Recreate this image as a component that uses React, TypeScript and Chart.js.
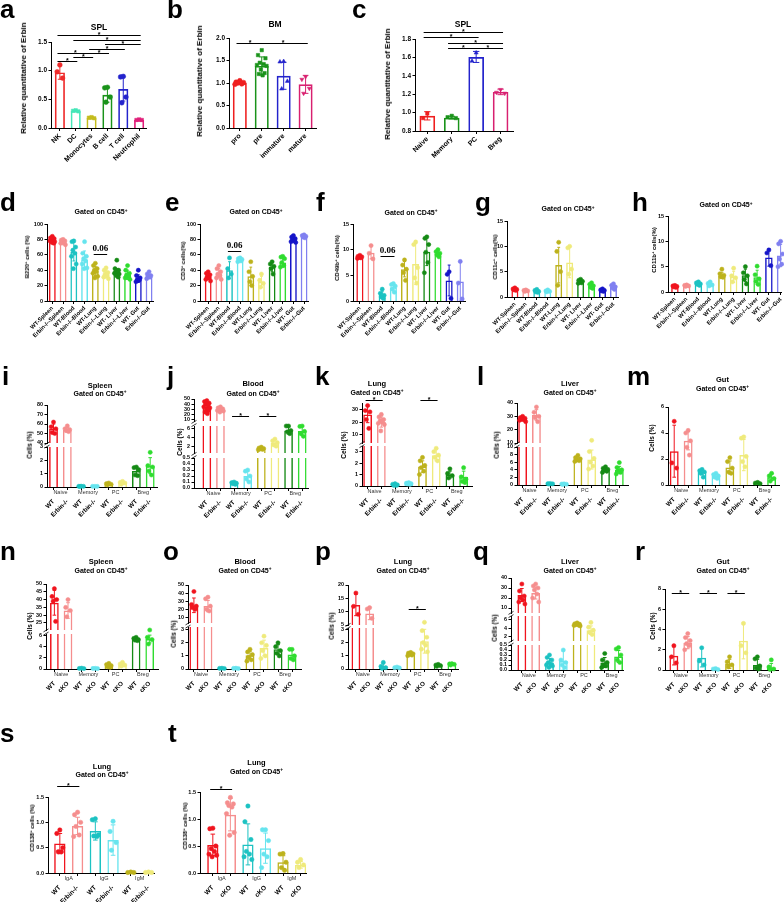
import React, { useEffect, useRef } from "react";
import { Chart, registerables } from "chart.js";

Chart.register(...registerables);

const SANS = "'Liberation Sans', Arial, Helvetica, sans-serif";
const SERIF = "'Liberation Serif', 'Times New Roman', serif";
Chart.defaults.font.family = SANS;

// ---------------- colours ----------------
const RED = "#f0141e", PINK = "#f58e8e", TEAL = "#1cc2c2", CYAN = "#66e4ee", OLIVE = "#bdb21c",
  LYEL = "#efea7c", DGREEN = "#158a15", LGREEN = "#2fdc2f", BLUE = "#1515c8", LBLUE = "#8080f0";
const PAL10 = [RED, PINK, TEAL, CYAN, OLIVE, LYEL, DGREEN, LGREEN, BLUE, LBLUE];
const PAL8 = PAL10.slice(0, 8);
const PAL6 = PAL10.slice(0, 6);

// ---------------- data ----------------
// a
const aCats = ["NK", "DC", "Monocytes", "B cell", "T cell", "Neutrophil"];
const aColors = ["#ef2b2b", "#46e6b8", "#c4bc1e", "#1a931a", "#2323cc", "#e0207a"];
const aMean = [0.97, 0.3, 0.18, 0.58, 0.68, 0.14];
const aSD = [0.12, 0.01, 0.02, 0.13, 0.21, 0.01];
const aPts = [[1.1, 0.98, 0.87], [0.31, 0.3, 0.29], [0.19, 0.18, 0.17], [0.71, 0.7, 0.54, 0.45], [0.9, 0.89, 0.54, 0.44], [0.15, 0.14, 0.14]];
const aShape = ["circle", "rect", "rect", "circle", "circle", "rect"];
const aBr = [[0, 5, 1.62], [1, 5, 1.535], [3, 5, 1.46], [2, 4, 1.38], [0, 2, 1.31], [2, 3, 1.31], [1, 2, 1.245], [0, 1, 1.17]];
// b
const bCats = ["pro", "pre", "immature", "mature"];
const bColors = ["#ef1f1f", "#1a931a", "#2323cc", "#d82070"];
const bMean = [1.0, 1.38, 1.16, 0.97];
const bSD = [0.03, 0.2, 0.3, 0.2];
const bPts = [[1.05, 1.02, 1.01, 1.0, 0.98, 0.97], [1.73, 1.62, 1.55, 1.45, 1.42, 1.4, 1.38, 1.3, 1.22, 1.2, 1.17], [1.48, 1.47, 1.04, 0.87], [1.14, 1.08, 0.88, 0.77]];
const bShape = ["circle", "rect", "triangle", "tri-down"];
const bBr = [[0, 1, 1.89], [1, 3, 1.89]];
// c
const cCats = ["Naive", "Memory", "PC", "Breg"];
const cMean = [0.965, 0.945, 1.605, 1.225];
const cSD = [0.045, 0.015, 0.06, 0.03];
const cPts = [[0.99, 0.94], [0.965, 0.95, 0.94], [1.65, 1.56], [1.25, 1.22, 1.21]];
const cShape = ["rect", "rect", "triangle", "tri-down"];
const cBr = [[0, 3, 1.873], [0, 2, 1.818], [1, 3, 1.76], [1, 2, 1.698], [2, 3, 1.698]];
// d-h
const tissueCats = ["WT-Spleen", "Erbin-/--Spleen", "WT-Blood", "Erbin-/--Blood", "WT-Lung", "Erbin-/--Lung", "WT- Liver", "Erbin-/--Liver", "WT- Gut", "Erbin-/--Gut"];
const dMean = [79, 76, 64, 54, 39, 35, 37, 34, 29, 32];
const dSD = [3, 3, 12, 11, 6, 5, 5, 6, 5, 3];
const dPts = [[84, 82, 81, 80, 79, 78, 77, 76, 75], [80, 79, 78, 77, 76, 75, 73], [78, 77, 70, 66, 62, 58, 48, 42], [77, 62, 58, 55, 52, 48, 43, 42], [49, 46, 42, 40, 38, 36, 32, 30], [43, 40, 37, 35, 33, 31, 29], [53, 42, 40, 38, 37, 36, 35, 33, 31], [46, 40, 36, 34, 32, 30, 28], [40, 33, 30, 28, 27, 25], [38, 35, 33, 32, 31, 29]];
const dBr = [[4, 5, 61]];
const eMean = [32, 36, 40, 53, 32, 25, 44, 50, 80, 83];
const eSD = [4, 6, 11, 2, 12, 7, 6, 6, 3, 2];
const ePts = [[38, 36, 34, 32, 30, 28, 26], [46, 42, 38, 35, 33, 30, 28], [56, 42, 35, 30], [56, 55, 54, 53, 52, 51], [51, 38, 32, 25, 20], [35, 27, 23, 18], [51, 48, 45, 42, 35], [58, 57, 55, 50, 46, 44], [85, 83, 81, 80, 78, 77, 76], [86, 85, 84, 83, 82]];
const eBr = [[2, 3, 65]];
const fMean = [8.6, 9.4, 1.2, 2.7, 6.2, 7.2, 9.6, 9.2, 4.0, 3.8];
const fSD = [0.2, 1.2, 0.6, 0.7, 1.5, 4.0, 2.7, 0.6, 3.0, 3.8];
const fPts = [[8.9, 8.7, 8.6, 8.5, 8.4, 8.3], [10.8, 9.3, 8.2], [2.3, 1.5, 1.1, 0.8, 0.5], [3.4, 3.2, 2.9, 2.3, 1.7], [8.0, 7.0, 6.2, 5.5, 4.0], [11.5, 11.0, 6.5, 4.5, 3.5], [12.5, 12.2, 11.0, 9.5, 7.5, 5.5], [10.0, 9.6, 9.3, 9.0, 8.6], [5.7, 5.2, 0.5], [7.7, 3.5, 0.4]];
const fBr = [[2, 3, 8.8]];
const gMean = [1.5, 1.2, 1.2, 1.1, 6.3, 6.8, 3.0, 2.2, 1.3, 2.0];
const gSD = [0.2, 0.1, 0.2, 0.15, 3.5, 3.0, 0.3, 0.4, 0.2, 0.4];
const gPts = [[1.8, 1.6, 1.5, 1.4, 1.3], [1.4, 1.3, 1.2, 1.1], [1.5, 1.3, 1.1, 1.0, 0.9], [1.4, 1.2, 1.1, 1.0], [10.8, 9.0, 5.0, 2.3], [10.0, 9.7, 5.5, 4.5], [3.5, 3.3, 3.1, 2.9, 2.8, 2.7], [2.8, 2.5, 2.2, 1.9, 1.7], [1.6, 1.4, 1.3, 1.2, 1.1], [2.6, 2.3, 2.0, 1.8, 1.5]];
const hMean = [1.1, 1.2, 1.6, 1.5, 3.3, 3.0, 3.3, 2.9, 6.8, 7.2];
const hSD = [0.15, 0.1, 0.25, 0.3, 0.6, 1.1, 1.2, 1.4, 1.7, 2.2];
const hPts = [[1.3, 1.2, 1.1, 1.0, 0.9], [1.4, 1.3, 1.2, 1.1], [2.0, 1.8, 1.6, 1.5, 1.3], [2.0, 1.7, 1.4, 1.2], [4.5, 3.6, 3.3, 3.0, 2.9], [4.7, 3.2, 2.8, 2.0], [5.0, 3.8, 3.2, 2.5, 1.6], [5.1, 3.4, 2.6, 2.1, 1.5], [8.3, 7.7, 5.2], [10.0, 9.5, 7.5, 6.5, 5.5, 5.0]];
// i-r
const wtErbin8 = ["WT", "Erbin-/-", "WT", "Erbin-/-", "WT", "Erbin-/-", "WT", "Erbin-/-"];
const wtCko8 = ["WT", "cKO", "WT", "cKO", "WT", "cKO", "WT", "cKO"];
const cellGroups = ["Naive", "Memory", "PC", "Breg"];
const iMean = [55, 54, 0.05, 0.05, 0.22, 0.3, 1.2, 1.6];
const iSD = [5, 2.5, 0.01, 0.01, 0.06, 0.1, 0.3, 0.6];
const iPts = [[62, 57, 55, 51, 50], [58, 55, 54, 53, 52], [0.06, 0.05, 0.05, 0.04], [0.05, 0.05, 0.05], [0.3, 0.25, 0.2, 0.15], [0.42, 0.35, 0.3, 0.2], [1.5, 1.45, 1.3, 0.9, 0.85], [2.6, 1.6, 1.5, 1.2, 0.9]];
const jMean = [35, 30, 0.08, 0.2, 1.5, 2.8, 5.5, 5.4];
const jSD = [8, 3, 0.02, 0.08, 0.2, 0.7, 0.8, 1.0];
const jPts = [[47, 45, 42, 40, 38, 35, 33, 30, 28, 25, 22], [35, 33, 31, 30, 29, 28, 27, 25], [0.1, 0.09, 0.08, 0.07, 0.06], [0.3, 0.28, 0.2, 0.15, 0.1], [1.8, 1.6, 1.5, 1.4, 1.3, 1.2], [3.6, 3.2, 2.8, 2.3, 2.0], [6.5, 6.5, 5.5, 5.2, 4.8], [6.5, 6.4, 5.3, 4.8, 4.2]];
const jBr = [[2, 3, 17.5, 2], [4, 5, 17.5, 2]];
const kMean = [26, 20, 0.1, 0.2, 1.7, 2.7, 1.0, 0.8];
const kSD = [6.5, 4, 0.05, 0.05, 0.5, 0.5, 0.3, 0.5];
const kPts = [[33, 29, 28, 22, 15], [26, 24, 22, 21, 20, 19, 18, 13], [0.2, 0.15, 0.1, 0.05, 0.05], [0.3, 0.25, 0.2, 0.18, 0.15], [2.5, 2.2, 1.8, 1.6, 1.3, 1.0], [3.3, 3.0, 2.7, 2.5, 2.2], [1.5, 1.1, 0.9, 0.7], [1.6, 0.8, 0.6, 0.4, 0.3]];
const kBr = [[0, 1, 37.5, 1], [4, 5, 37.5, 1]];
const lMean = [28, 31, 0.3, 0.2, 6.8, 6.7, 4.0, 4.0];
const lSD = [1.5, 4, 0.05, 0.05, 0.5, 2.5, 0.5, 0.9];
const lPts = [[30, 29, 28.5, 28, 27.5, 27, 26], [37, 33, 30, 29, 26], [0.4, 0.35, 0.3, 0.25], [0.3, 0.25, 0.2, 0.15], [7.8, 7.2, 6.9, 6.6, 6.4, 6.2], [12, 8.8, 7.0, 6.0, 5.0, 4.2], [4.8, 4.4, 4.1, 3.9, 3.6, 3.3], [5.9, 4.6, 4.0, 3.7, 3.3, 2.9]];
const mMean = [2.6, 3.4, 1.0, 0.7, 1.35, 2.3, 0.15, 0.6];
const mSD = [2.0, 0.7, 0.2, 0.15, 0.5, 1.2, 0.05, 0.25];
const mPts = [[4.9, 1.7, 1.3], [4.2, 4.0, 3.4, 2.9, 2.3], [1.2, 1.1, 1.0, 0.9, 0.6], [0.9, 0.8, 0.7, 0.6, 0.5], [2.1, 1.8, 1.3, 1.0, 0.9], [3.7, 3.6, 2.2, 1.8, 1.4], [0.2, 0.15, 0.1], [0.9, 0.7, 0.5, 0.3]];
const nMean = [38, 33, 0.1, 0.1, 0.6, 0.7, 5.3, 5.4];
const nSD = [8, 5, 0.03, 0.02, 0.25, 0.3, 0.2, 0.7];
const nPts = [[47, 42, 40, 39, 26], [40, 35, 33, 29], [0.15, 0.1, 0.08], [0.12, 0.1, 0.08], [1.0, 0.8, 0.6, 0.4, 0.3], [1.2, 0.9, 0.7, 0.5], [5.7, 5.5, 5.3, 5.2, 5.1], [6.4, 5.7, 5.3, 4.5]];
const oMean = [25, 24, 0.05, 0.05, 1.05, 1.6, 1.5, 1.1];
const oSD = [9, 7, 0.01, 0.01, 0.3, 0.6, 0.35, 0.35];
const oPts = [[42, 26, 24, 22, 20], [35, 33, 24, 20, 18], [0.06, 0.05, 0.04], [0.06, 0.05, 0.04], [1.5, 1.3, 1.1, 0.9, 0.7, 0.6], [2.5, 2.0, 1.8, 1.4, 1.0, 0.8], [2.0, 1.7, 1.4, 1.2, 1.0], [1.5, 1.5, 1.0, 0.8, 0.7]];
const pMean = [12.5, 9.3, 0.2, 0.1, 1.1, 2.1, 0.3, 0.35];
const pSD = [4, 2.3, 0.2, 0.03, 0.1, 0.9, 0.05, 0.04];
const pPts = [[17, 12, 9], [11.5, 11, 7.5], [0.5, 0.2, 0.1, 0.05], [0.15, 0.1, 0.08], [1.25, 1.2, 1.15, 1.1, 1.05, 1.0], [6, 2.9, 2.4, 2.0, 1.8, 1.5, 1.3], [0.35, 0.3, 0.25, 0.2], [0.4, 0.38, 0.35, 0.3]];
const pBr = [[4, 5, 11, 1]];
const qMean = [23, 25, 0.15, 0.18, 4.8, 3.5, 0.15, 0.27];
const qSD = [6.5, 6, 0.08, 0.2, 0.25, 1.0, 0.1, 0.12];
const qPts = [[34, 27, 22, 20, 18, 16, 14], [34, 32, 30, 28, 24, 20, 16], [0.3, 0.25, 0.2, 0.15, 0.12, 0.1, 0.08, 0.05], [0.4, 0.2, 0.15, 0.1, 0.05], [5.2, 5.0, 4.9, 4.8, 4.7, 4.6, 4.5], [5.3, 4.2, 3.5, 3.0, 2.5], [0.33, 0.2, 0.15, 0.1, 0.08, 0.05], [0.45, 0.42, 0.3, 0.2, 0.15]];
const rMean = [1.4, 2.7, 1.2, 0.1, 0.6, 2.9, 0.5, 0.25];
const rSD = [0.9, 0.6, 0.9, 0.05, 0.45, 1.8, 0.55, 0.4];
const rPts = [[2.4, 1.3, 0.7], [3.6, 3.2, 2.9, 2.6, 2.4, 2.0], [2.2, 0.9, 0.5], [0.15, 0.1, 0.05], [1.3, 0.8, 0.5, 0.3], [4.6, 2.4, 1.7], [1.3, 1.1, 0.4, 0.2, 0.1], [1.0, 0.3, 0.1, 0.05]];
const rBr = [[0, 1, 7.6], [2, 3, 7.6], [4, 5, 7.6]];
// s-t
const wtErbin6 = ["WT", "Erbin-/-", "WT", "Erbin-/-", "WT", "Erbin-/-"];
const wtCko6 = ["WT", "cKO", "WT", "cKO", "WT", "cKO"];
const igGroups = ["IgA", "IgG", "IgM"];
const sMean = [0.58, 0.93, 0.83, 0.65, 0.01, 0.01];
const sSD = [0.2, 0.17, 0.18, 0.3, 0.005, 0.005];
const sPts = [[0.85, 0.78, 0.5, 0.42, 0.42], [1.2, 1.15, 1.0, 0.92, 0.75, 0.72], [1.07, 1.05, 0.75, 0.73, 0.72], [1.02, 0.82, 0.6, 0.45], [0.02, 0.01, 0.01], [0.02, 0.01, 0.01]];
const sBr = [[0, 1, 1.72]];
const tMean = [0.52, 1.08, 0.53, 0.46, 0.2, 0.15];
const tSD = [0.2, 0.3, 0.38, 0.28, 0.12, 0.06];
const tPts = [[0.83, 0.82, 0.5, 0.45, 0.4, 0.35, 0.33, 0.3], [1.4, 1.3, 1.28, 1.25, 1.22, 1.1, 0.75, 0.7], [1.24, 0.95, 0.62, 0.4, 0.35, 0.3, 0.25], [0.8, 0.8, 0.6, 0.35, 0.3, 0.1], [0.36, 0.35, 0.2, 0.1, 0.05], [0.25, 0.2, 0.15, 0.1]];
const tBr = [[0, 1, 1.555]];

// ---------------- panel layout ----------------
type Seg = { min: number; max: number; ticks: number[]; dec: number; h: number };
type Panel = any;

const seg = (min: number, max: number, ticks: number[], dec: number, h: number): Seg => ({ min, max, ticks, dec, h });
const T100 = [0, 20, 40, 60, 80, 100];
const T15 = [0, 5, 10, 15];
const T05 = [0, 0.1, 0.2, 0.3, 0.4, 0.5];
const GATED = "Gated on CD45^+";

const rowDH = (o: any) => ({ labels: tissueCats, colors: PAL10, xFont: 5.8, xPad: 1, yFont: 5.5, bw: 1.5, pr: 2.1, tSize: [7], ylSize: 6, ...o });
const rowIR = (o: any) => ({ colors: PAL8, groups: cellGroups, xFont: 6.2, xPad: 8, yFont: 5.4, bw: 1.5, pr: 2.1, tSize: [7.5, 7], ylab: "Cells (%)", ylSize: 6.5, ...o });
const rowST = (o: any) => ({ colors: PAL6, groups: igGroups, xFont: 6.5, xPad: 8, yFont: 5.5, bw: 1.5, pr: 2.2, tSize: [7.5, 7], ylab: "CD138^+ cells (%)", ylSize: 6, title: ["Lung", GATED], brText: "*", ...o });

const PANELS: Panel[] = [
  { id: "a", letter: "a", lx: 0, lb: 18, title: ["SPL"], tSize: [8.5], tx: 99, ty: [27.5], ylab: "Relative quantitative of Erbin", ylx: 24, yly: 78, ylSize: 8.1,
    x0: 51, x1: 148, xc0: 60, cw: 16.1, yBot: 128, segs: [seg(0, 1.5, [0, 0.5, 1, 1.5], 1, 86)],
    labels: aCats, colors: aColors, means: aMean, sds: aSD, pts: aPts, shapes: aShape, brackets: aBr, brText: "*", xFont: 7, xPad: 1, yFont: 6.5, bw: 1.7, pr: 2.4 },
  { id: "b", letter: "b", lx: 167, lb: 18, title: ["BM"], tSize: [8.5], tx: 275, ty: [24.5], ylab: "Relative quantitative of Erbin", ylx: 200, yly: 81, ylSize: 8.1,
    x0: 229, x1: 318, xc0: 240, cw: 22.3, yBot: 128, segs: [seg(0, 2, [0, 0.5, 1, 1.5, 2], 1, 90)],
    labels: bCats, colors: bColors, means: bMean, sds: bSD, pts: bPts, shapes: bShape, brackets: bBr, brText: "*", xFont: 7, xPad: 1, yFont: 6.5, bw: 1.7, pr: 2.4 },
  { id: "c", letter: "c", lx: 352, lb: 18, title: ["SPL"], tSize: [8.5], tx: 463, ty: [24.5], ylab: "Relative quantitative of Erbin", ylx: 388, yly: 84, ylSize: 8.1,
    x0: 415, x1: 515, xc0: 427.5, cw: 24.8, yBot: 131, segs: [seg(0.8, 1.8, [0.8, 1.0, 1.2, 1.4, 1.6, 1.8], 1, 92)],
    labels: cCats, colors: bColors, means: cMean, sds: cSD, pts: cPts, shapes: cShape, brackets: cBr, brText: "*", xFont: 7, xPad: 1, yFont: 6.5, bw: 1.7, pr: 2.4 },

  rowDH({ id: "d", letter: "d", lx: 0, lb: 211, title: [GATED], tx: 101, ty: [211.5], ylab: "B220^+ cells (%)", ylx: 26.5, yly: 257,
    x0: 47, x1: 155, xc0: 52.4, cw: 10.9, yBot: 301, segs: [seg(0, 100, T100, 0, 77)], means: dMean, sds: dSD, pts: dPts, brackets: dBr, brText: "0.06", brSerif: true }),
  rowDH({ id: "e", letter: "e", lx: 165, lb: 211, title: [GATED], tx: 256, ty: [211.5], ylab: "CD3^+ cells(%)", ylx: 182.5, yly: 261,
    x0: 200, x1: 310, xc0: 208.3, cw: 10.8, yBot: 301, segs: [seg(0, 100, T100, 0, 77)], means: eMean, sds: eSD, pts: ePts, brackets: eBr, brText: "0.06", brSerif: true }),
  rowDH({ id: "f", letter: "f", lx: 316, lb: 211, title: [GATED], tx: 411, ty: [212], ylab: "CD49b^+ cells(%)", ylx: 336.5, yly: 258,
    x0: 353, x1: 467, xc0: 360, cw: 11.3, yBot: 301, segs: [seg(0, 15, T15, 0, 77)], means: fMean, sds: fSD, pts: fPts, brackets: fBr, brText: "0.06", brSerif: true }),
  rowDH({ id: "g", letter: "g", lx: 475, lb: 211, title: [GATED], tx: 568, ty: [208.5], ylab: "CD11c^+ cells(%)", ylx: 495, yly: 257,
    x0: 507, x1: 620, xc0: 515, cw: 11.1, yBot: 297, segs: [seg(0, 15, T15, 0, 76)], means: gMean, sds: gSD, pts: gPts }),
  rowDH({ id: "h", letter: "h", lx: 632, lb: 211, title: [GATED], tx: 726, ty: [204.5], ylab: "CD11b^+ cells(%)", ylx: 653.5, yly: 250,
    x0: 668, x1: 783, xc0: 675, cw: 11.9, yBot: 292, segs: [seg(0, 15, T15, 0, 76)], means: hMean, sds: hSD, pts: hPts }),

  rowIR({ id: "i", letter: "i", lx: 2, lb: 385, title: ["Spleen", GATED], tx: 100, ty: [385.5, 393], ylx: 30, yly: 445,
    x0: 47, x1: 159, xc0: 53.6, cw: 14, yBot: 487, segs: [seg(0, 3, [0, 1, 2, 3], 0, 40), seg(40, 80, [40, 50, 60, 70, 80], 0, 38)], gaps: [4],
    labels: wtErbin8, means: iMean, sds: iSD, pts: iPts }),
  rowIR({ id: "j", letter: "j", lx: 167, lb: 385, title: ["Blood", GATED], tx: 253, ty: [384, 393], ylx: 180, yly: 442,
    x0: 194, x1: 310, xc0: 207, cw: 13.8, yBot: 488, segs: [seg(0, 0.5, T05, 1, 30), seg(0.5, 6.5, [2, 4, 6], 0, 27), seg(8, 50, [10, 20, 30, 40, 50], 0, 22)], gaps: [5, 5],
    labels: wtErbin8, means: jMean, sds: jSD, pts: jPts, brackets: jBr, brText: "*" }),
  rowIR({ id: "k", letter: "k", lx: 315, lb: 385, title: ["Lung", GATED], tx: 377, ty: [383.5, 392], ylx: 343.5, yly: 445,
    x0: 362, x1: 474, xc0: 367.7, cw: 13.9, yBot: 486, segs: [seg(0, 3.5, [0, 1, 2, 3], 0, 40), seg(3.5, 35, [10, 20, 30], 0, 40)], gaps: [3],
    labels: wtErbin8, means: kMean, sds: kSD, pts: kPts, brackets: kBr, brText: "*" }),
  rowIR({ id: "l", letter: "l", lx: 477, lb: 385, title: ["Liver", GATED], tx: 570, ty: [383.5, 392], ylx: 496.5, yly: 445,
    x0: 517, x1: 630, xc0: 522.7, cw: 14, yBot: 485, segs: [seg(0, 10, [0, 2, 4, 6, 8, 10], 0, 38), seg(10, 40, [10, 20, 30, 40], 0, 40)], gaps: [4],
    labels: wtErbin8, means: lMean, sds: lSD, pts: lPts }),
  rowIR({ id: "m", letter: "m", lx: 627, lb: 385, title: ["Gut", GATED], tx: 722.5, ty: [380, 388], ylx: 651.5, yly: 438,
    x0: 668, x1: 781, xc0: 674.3, cw: 14.1, yBot: 485, segs: [seg(0, 6, [0, 2, 4, 6], 0, 78)],
    labels: wtErbin8, means: mMean, sds: mSD, pts: mPts }),

  rowIR({ id: "n", letter: "n", lx: 0, lb: 560, title: ["Spleen", GATED], tx: 101, ty: [562, 570], ylx: 30, yly: 626,
    x0: 46, x1: 160, xc0: 54.5, cw: 13.8, yBot: 669, segs: [seg(0, 6.3, [0, 2, 4, 6], 0, 35), seg(20.5, 50, [25, 30, 35, 40, 45, 50], 0, 46)], gaps: [4],
    labels: wtCko8, means: nMean, sds: nSD, pts: nPts }),
  rowIR({ id: "o", letter: "o", lx: 163, lb: 560, title: ["Blood", GATED], tx: 245, ty: [562, 570], ylx: 173.5, yly: 634,
    x0: 188, x1: 303, xc0: 194, cw: 14.2, yBot: 669, segs: [seg(0, 3.2, [0, 1, 2, 3], 0, 42), seg(3.2, 50, [10, 20, 30, 40, 50], 0, 38)], gaps: [4],
    labels: wtCko8, means: oMean, sds: oSD, pts: oPts }),
  rowIR({ id: "p", letter: "p", lx: 315, lb: 560, title: ["Lung", GATED], tx: 403, ty: [562, 570], ylx: 331.5, yly: 626,
    x0: 348, x1: 460, xc0: 356, cw: 13.9, yBot: 669, segs: [seg(0, 3.1, [0, 1, 2, 3], 0, 41), seg(5, 20, [5, 10, 15, 20], 0, 40)], gaps: [3],
    labels: wtCko8, means: pMean, sds: pSD, pts: pPts, brackets: pBr, brText: "*" }),
  rowIR({ id: "q", letter: "q", lx: 473, lb: 560, title: ["Liver", GATED], tx: 570, ty: [562, 570], ylx: 495, yly: 628,
    x0: 511, x1: 625, xc0: 522, cw: 14, yBot: 670, segs: [seg(0, 0.5, T05, 1, 25), seg(1, 6.8, [2, 4, 6], 0, 25), seg(5, 40, [10, 20, 30, 40], 0, 35)], gaps: [4, 3],
    labels: wtCko8, means: qMean, sds: qSD, pts: qPts }),
  rowIR({ id: "r", letter: "r", lx: 635, lb: 560, title: ["Gut", GATED], tx: 723, ty: [562, 570], ylx: 652.5, yly: 626,
    x0: 665, x1: 780, xc0: 674, cw: 14.1, yBot: 670, segs: [seg(0, 8, [0, 2, 4, 6, 8], 0, 81)],
    labels: wtCko8, means: rMean, sds: rSD, pts: rPts, brackets: rBr, brText: "*" }),

  rowST({ id: "s", letter: "s", lx: 0, lb: 742, tx: 102, ty: [766.5, 774], ylx: 31.5, yly: 828,
    x0: 48, x1: 156, xc0: 60, cw: 18, yBot: 873, segs: [seg(0, 1.5, [0, 0.5, 1, 1.5], 1, 76)],
    labels: wtErbin6, means: sMean, sds: sSD, pts: sPts, brackets: sBr }),
  rowST({ id: "t", letter: "t", lx: 168, lb: 742, tx: 256.5, ty: [763, 771], ylx: 185, yly: 826,
    x0: 200, x1: 308, xc0: 213, cw: 17.8, yBot: 873, segs: [seg(0, 1.5, [0, 0.5, 1, 1.5], 1, 81)],
    labels: wtCko6, means: tMean, sds: tSD, pts: tPts, brackets: tBr }),
];

// ---------------- chart building ----------------
const PL = 40, PT = 34, PR = 3, XH = 58;
const JIT = [0, -0.17, 0.17, -0.09, 0.09, -0.22, 0.22, -0.04, 0.13, -0.13, 0.04];

function segOf(segs: Seg[], v: number) {
  for (let k = 0; k < segs.length; k++) if (v <= segs[k].max) return k;
  return segs.length - 1;
}

function makeChart(cv: HTMLCanvasElement, p: Panel) {
  const segs: Seg[] = p.segs;
  const gaps: number[] = p.gaps || [];
  const xmin = -(p.xc0 - p.x0) / p.cw;
  const xmax = xmin + (p.x1 - p.x0) / p.cw;
  const scales: any = {
    x: {
      type: "linear", axis: "x", position: "bottom", min: xmin, max: xmax, bounds: "data", offset: false,
      afterBuildTicks: (s: any) => { s.ticks = p.labels.map((_: string, i: number) => ({ value: i })); },
      afterFit: (s: any) => { s.height = XH; s.paddingLeft = 0; s.paddingRight = 0; },
      ticks: {
        autoSkip: false, minRotation: 45, maxRotation: 45, padding: p.xPad, color: "#000",
        font: { family: SANS, size: p.xFont, weight: "bold" },
        callback: (v: any) => p.labels[Math.round(Number(v))] ?? "",
      },
      grid: { display: true, offset: false, drawOnChartArea: false, drawTicks: true, tickLength: 3, color: "#000", lineWidth: 1 },
      border: { display: true, color: "#000", width: 1 },
    },
  };
  segs.forEach((sg, k) => {
    scales["y" + k] = {
      type: "linear", axis: "y", position: "left", stack: "v", stackWeight: sg.h, weight: 2 * k,
      min: sg.min, max: sg.max, bounds: "data", offset: false, beginAtZero: false,
      afterBuildTicks: (s: any) => { s.ticks = sg.ticks.map((v) => ({ value: v })); },
      afterFit: (s: any) => { s.width = PL; s.paddingTop = 0; s.paddingBottom = 0; },
      ticks: { autoSkip: false, padding: 1.5, color: "#000", font: { family: SANS, size: p.yFont, weight: "bold" }, callback: (v: any) => Number(v).toFixed(sg.dec) },
      grid: { display: true, drawOnChartArea: false, drawTicks: true, tickLength: 2.5, color: "#000", lineWidth: 1 },
      border: { display: true, color: "#000", width: 1 },
    };
    if (k < segs.length - 1) {
      scales["g" + k] = { type: "linear", axis: "y", position: "left", stack: "v", stackWeight: gaps[k], weight: 2 * k + 1, display: false, min: 0, max: 1 };
    }
  });

  const datasets: any[] = [];
  const colors: string[] = p.colors;
  // points
  segs.forEach((sg, k) => {
    const data: any[] = [], bg: string[] = [], st: string[] = [], rot: number[] = [];
    p.pts.forEach((arr: number[], i: number) => arr.forEach((v: number, j: number) => {
      if (segOf(segs, v) !== k) return;
      data.push({ x: i + JIT[j % JIT.length], y: Math.min(Math.max(v, sg.min), sg.max) });
      bg.push(colors[i]);
      const shp = p.shapes ? p.shapes[i] : "circle";
      st.push(shp === "tri-down" ? "triangle" : shp);
      rot.push(shp === "tri-down" ? 180 : 0);
    }));
    datasets.push({
      type: "scatter", xAxisID: "x", yAxisID: "y" + k, order: 0, clip: false, data,
      pointBackgroundColor: bg, pointBorderColor: bg, pointStyle: st, pointRotation: rot, pointRadius: p.pr, pointBorderWidth: 0.5,
    });
  });
  // error bars (drawn in the segment that holds the mean)
  p.means.forEach((m: number, i: number) => {
    const k = segOf(segs, m);
    const lo = Math.max(0, m - p.sds[i]), hi = m + p.sds[i];
    const c = 0.13;
    datasets.push({
      type: "line", xAxisID: "x", yAxisID: "y" + k, order: 1, segClip: true, clip: false,
      data: [{ x: i, y: lo }, { x: i, y: hi }, { x: i, y: null }, { x: i - c, y: hi }, { x: i + c, y: hi }, { x: i, y: null }, { x: i - c, y: lo }, { x: i + c, y: lo }],
      borderColor: colors[i], borderWidth: 1, pointRadius: 0, spanGaps: false, tension: 0, fill: false,
    });
  });
  // bars
  segs.forEach((sg, k) => {
    const e = (sg.max - sg.min) * 0.15;
    const idx = p.means.map((_: number, i: number) => i).filter((i: number) => k === 0 || p.means[i] > sg.min);
    datasets.push({
      type: "bar", xAxisID: "x", yAxisID: "y" + k, order: 2, grouped: false, segClip: true,
      data: idx.map((i: number) => ({ x: i, y: [sg.min - e, Math.min(p.means[i], sg.max + e)] })),
      backgroundColor: "rgba(255,255,255,0)", borderColor: idx.map((i: number) => colors[i]), borderWidth: p.bw, borderSkipped: false,
      barPercentage: 0.64, categoryPercentage: 1,
    });
  });

  const deco = {
    id: "deco",
    beforeDatasetDraw(chart: any, args: any) {
      const ds = chart.data.datasets[args.index];
      if (!ds.segClip) return;
      const ys = chart.scales[ds.yAxisID];
      const ca = chart.chartArea;
      const ctx = chart.ctx;
      ctx.save();
      ctx.beginPath();
      ctx.rect(ca.left - 5, ys.top, ca.right - ca.left + 10, ys.bottom - ys.top);
      ctx.clip();
    },
    afterDatasetDraw(chart: any, args: any) {
      const ds = chart.data.datasets[args.index];
      if (ds.segClip) chart.ctx.restore();
    },
    afterDraw(chart: any) {
      const ctx = chart.ctx;
      const xs = chart.scales.x;
      const ca = chart.chartArea;
      ctx.save();
      // significance brackets
      (p.brackets || []).forEach((b: number[]) => {
        const ys = chart.scales["y" + (b[3] || 0)];
        const y = Math.round(ys.getPixelForValue(b[2])) + 0.5;
        const xa = xs.getPixelForValue(b[0] - 0.15), xb = xs.getPixelForValue(b[1] + 0.1);
        ctx.strokeStyle = "#000"; ctx.lineWidth = 1;
        ctx.beginPath(); ctx.moveTo(xa, y); ctx.lineTo(xb, y); ctx.stroke();
        ctx.fillStyle = "#000"; ctx.textAlign = "center"; ctx.textBaseline = "alphabetic";
        if (p.brSerif) { ctx.font = `bold 9px ${SERIF}`; ctx.fillText(p.brText, (xa + xb) / 2, y - 4); }
        else { ctx.font = `bold 7px ${SANS}`; ctx.fillText(p.brText, (xa + xb) / 2, y + 1.5); }
      });
      // group labels under the axis
      if (p.groups) {
        ctx.font = `5.5px ${SANS}`; ctx.fillStyle = "#333"; ctx.textAlign = "center"; ctx.textBaseline = "top";
        p.groups.forEach((g: string, k: number) => ctx.fillText(g, xs.getPixelForValue(2 * k + 0.5), ca.bottom + 2.5));
      }
      // axis break marks
      for (let k = 0; k < segs.length - 1; k++) {
        const gs = chart.scales["g" + k];
        const yc = (gs.top + gs.bottom) / 2;
        const x = ca.left;
        ctx.strokeStyle = "#000"; ctx.lineWidth = 0.8;
        [-1.6, 1.6].forEach((o) => { ctx.beginPath(); ctx.moveTo(x - 2.5, yc + o + 1.5); ctx.lineTo(x + 2.5, yc + o - 1.5); ctx.stroke(); });
      }
      ctx.restore();
    },
  };

  return new Chart(cv, {
    type: "bar",
    data: { datasets },
    options: {
      animation: false, responsive: false, maintainAspectRatio: false, devicePixelRatio: 1, events: [],
      layout: { padding: { top: PT, right: PR, left: 0, bottom: 0 } },
      plugins: { legend: { display: false }, tooltip: { enabled: false }, title: { display: false } },
      scales,
    } as any,
    plugins: [deco],
  } as any);
}

function Rich({ s }: { s: string }) {
  const parts = s.split(/\^(.)/);
  return (
    <>
      {parts.map((t, i) =>
        i % 2 ? (
          <span key={i} style={{ fontSize: "0.68em", position: "relative", top: "-0.5em" }}>{t}</span>
        ) : (
          <span key={i}>{t}</span>
        )
      )}
    </>
  );
}

function PanelView({ p }: { p: Panel }) {
  const ref = useRef<HTMLCanvasElement>(null);
  const gaps: number[] = p.gaps || [];
  const plotH = p.segs.reduce((s: number, g: Seg) => s + g.h, 0) + gaps.reduce((s, g) => s + g, 0);
  const yTop = p.yBot - plotH;
  const W = Math.round(p.x1 - p.x0) + PL + PR;
  const H = plotH + PT + XH;
  const left = p.x0 - PL;
  const top = yTop - PT;
  useEffect(() => {
    const c = makeChart(ref.current as HTMLCanvasElement, p);
    return () => c.destroy();
  }, [p]);
  return (
    <>
      <canvas ref={ref} width={W} height={H} style={{ position: "absolute", left, top, width: W, height: H }} />
      <div style={{ position: "absolute", left: p.lx, top: p.lb - 22, fontFamily: SANS, fontWeight: 700, fontSize: 26, lineHeight: "26px", color: "#000" }}>{p.letter}</div>
      {p.title.map((t: string, i: number) => (
        <div key={i} style={{ position: "absolute", left: p.tx - 80, width: 160, top: p.ty[i] - p.tSize[i] / 2, textAlign: "center", fontFamily: SANS, fontWeight: 700, fontSize: p.tSize[i], lineHeight: `${p.tSize[i]}px`, whiteSpace: "nowrap", color: "#000" }}>
          <Rich s={t} />
        </div>
      ))}
      <div style={{ position: "absolute", left: p.ylx, top: p.yly, transform: "translate(-50%, -50%) rotate(-90deg)", fontFamily: SANS, fontWeight: 700, fontSize: p.ylSize, lineHeight: 1, whiteSpace: "nowrap", color: "#000" }}>
        <Rich s={p.ylab} />
      </div>
    </>
  );
}

export default function App() {
  return (
    <div style={{ position: "absolute", left: 0, top: 0, width: 784, height: 902, overflow: "hidden", background: "#fff", fontFamily: SANS }}>
      {PANELS.map((p) => (
        <PanelView key={p.id} p={p} />
      ))}
    </div>
  );
}
